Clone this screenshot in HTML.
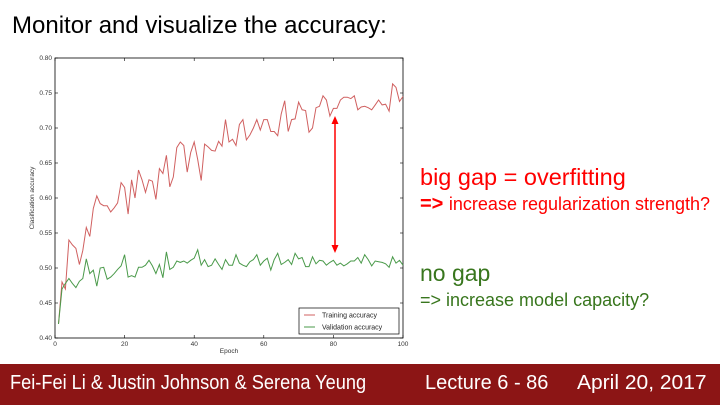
<!DOCTYPE html>
<html><head><meta charset="utf-8"><style>
body{margin:0;width:720px;height:405px;background:#fff;position:relative;overflow:hidden;font-family:"Liberation Sans",sans-serif}
.t{position:absolute;white-space:nowrap}
</style></head><body>
<div class="t" style="left:12px;top:12px;font-size:24px;color:#000">Monitor and visualize the accuracy:</div>
<svg width="720" height="405" style="position:absolute;left:0;top:0" id="s">
<rect x="55" y="58" width="348" height="280" fill="#fff" stroke="#000" stroke-width="0.8"/>
<g id="ticks" font-size="6.5" fill="#333" font-family="Liberation Sans"></g>
<text x="0" y="0" font-size="6.5" fill="#333" transform="translate(34,198) rotate(-90)" text-anchor="middle">Clasification accuracy</text>
<text x="229" y="353" font-size="6.5" fill="#333" text-anchor="middle">Epoch</text>
<polyline id="tr" fill="none" stroke="#d06060" stroke-width="1"/>
<polyline id="va" fill="none" stroke="#4a9a4a" stroke-width="1"/>
<line x1="335" y1="122" x2="335" y2="247" stroke="#f00" stroke-width="1.5"/>
<polygon points="335,116 331.5,124 338.5,124" fill="#f00"/>
<polygon points="335,253 331.5,245 338.5,245" fill="#f00"/>
<rect x="299" y="308" width="100" height="26" fill="#fff" stroke="#000" stroke-width="0.7"/>
<line x1="304" y1="315" x2="315" y2="315" stroke="#d06060"/>
<line x1="304" y1="327" x2="315" y2="327" stroke="#4a9a4a"/>
<text x="322" y="317.5" font-size="7" fill="#222">Training accuracy</text>
<text x="322" y="329.5" font-size="7" fill="#222">Validation accuracy</text>
</svg>
<div class="t" style="left:420px;top:164px;font-size:23.5px;color:#f00">big gap = overfitting</div>
<div class="t" style="left:420px;top:193px;font-size:20px;color:#f00"><b>=&gt;</b> <span style="font-size:18px">increase regularization strength?</span></div>
<div class="t" style="left:420px;top:260px;font-size:23px;color:#38761d">no gap</div>
<div class="t" style="left:420px;top:290px;font-size:18px;color:#38761d">=&gt; increase model capacity?</div>
<div style="position:absolute;left:0;top:364px;width:720px;height:41px;background:#8c1515"></div>
<div class="t" style="left:10px;top:372px;font-size:20px;color:#fff;transform:scaleX(0.91);transform-origin:left">Fei-Fei Li &amp; Justin Johnson &amp; Serena Yeung</div>
<div class="t" style="left:425px;top:372px;font-size:20px;color:#fff">Lecture 6 - 86</div>
<div class="t" style="left:577px;top:372px;font-size:20px;color:#fff;transform:scaleX(1.05);transform-origin:left">April 20, 2017</div>
<script>
var T=[.42,.48,.47,.54,.533,.528,.505,.525,.558,.545,.585,.603,.592,.589,.589,.58,.586,.593,.622,.615,.577,.626,.6,.64,.626,.608,.626,.624,.598,.642,.635,.661,.616,.63,.672,.68,.675,.637,.665,.68,.655,.625,.677,.673,.668,.667,.681,.674,.712,.68,.684,.675,.705,.712,.683,.69,.7,.712,.697,.712,.712,.695,.695,.689,.72,.739,.695,.712,.713,.737,.726,.725,.694,.7,.729,.731,.746,.74,.717,.728,.728,.74,.744,.744,.742,.746,.726,.73,.731,.729,.726,.733,.74,.733,.734,.724,.763,.758,.738,.745];
var V=[.42,.47,.478,.485,.478,.472,.481,.485,.513,.492,.497,.474,.5,.501,.484,.487,.492,.498,.503,.519,.487,.489,.487,.501,.501,.504,.511,.503,.492,.505,.486,.523,.498,.501,.51,.508,.51,.507,.511,.514,.526,.504,.512,.502,.504,.513,.505,.498,.512,.504,.504,.519,.507,.504,.502,.509,.512,.519,.504,.51,.514,.497,.512,.521,.505,.508,.512,.505,.521,.513,.515,.502,.502,.516,.506,.511,.51,.504,.508,.511,.504,.507,.503,.506,.51,.51,.515,.507,.519,.512,.503,.51,.509,.508,.506,.501,.516,.507,.511,.504];
function X(e){return 55+e*3.48}function Y(v){return 338-(v-.4)*700}
function pts(a){return a.map(function(v,i){return X(i+1).toFixed(1)+','+Y(v).toFixed(1)}).join(' ')}
document.getElementById('tr').setAttribute('points',pts(T));
document.getElementById('va').setAttribute('points',pts(V));
var g=document.getElementById('ticks'),h='';
for(var i=0;i<=8;i++){var v=.4+i*.05,y=Y(v);h+='<text x="52" y="'+(y+2.2)+'" text-anchor="end">'+v.toFixed(2)+'</text><line x1="55" y1="'+y+'" x2="58" y2="'+y+'" stroke="#000" stroke-width=".6"/><line x1="403" y1="'+y+'" x2="400" y2="'+y+'" stroke="#000" stroke-width=".6"/>';}
for(var e=0;e<=100;e+=20){var x=X(e);h+='<text x="'+x+'" y="346" text-anchor="middle">'+e+'</text><line x1="'+x+'" y1="338" x2="'+x+'" y2="335" stroke="#000" stroke-width=".6"/><line x1="'+x+'" y1="58" x2="'+x+'" y2="61" stroke="#000" stroke-width=".6"/>';}
g.innerHTML=h;
</script>
</body></html>
